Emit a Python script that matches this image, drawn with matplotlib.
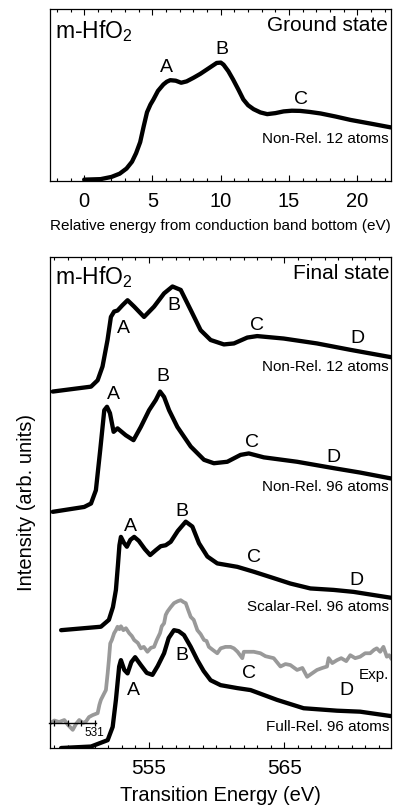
import matplotlib
matplotlib.use('Agg')
import matplotlib.pyplot as plt
from matplotlib.ticker import FixedLocator, MultipleLocator, NullLocator

plt.rcParams['font.family'] = ['Liberation Sans', 'DejaVu Sans']
plt.rcParams['mathtext.fontset'] = 'custom'
plt.rcParams['mathtext.rm'] = 'Liberation Sans'

# ground state, relative energy (eV) vs intensity (arb.)
gs_e = [0.0, 1.2, 2.0, 2.6, 3.1, 3.5, 3.8, 4.1, 4.35, 4.6, 4.85, 5.07, 5.4, 5.8, 6.05, 6.3,
        6.7, 7.1, 7.5, 8.0, 8.5, 8.97, 9.4, 9.7, 10.0, 10.2, 10.55, 10.9, 11.3, 11.65, 12.0,
        12.4, 12.9, 13.4, 14.0, 14.6, 15.2, 15.8, 16.5, 17.3, 18.4, 19.5, 21.0, 22.46]
gs_i = [0.0, 0.3, 1.6, 3.5, 6.5, 10.5, 15.5, 22.0, 31.0, 39.5, 44.0, 47.0, 52.0, 55.8, 57.4, 58.3,
        58.0, 56.8, 57.6, 59.7, 62.0, 64.5, 66.8, 68.4, 68.6, 67.4, 63.6, 58.7, 52.6, 47.0, 43.6,
        41.3, 39.4, 38.4, 39.0, 40.0, 40.4, 40.3, 39.7, 38.8, 37.0, 35.0, 32.8, 30.6]
gs_xticks = [0, 5, 10, 15, 20]

# final state, transition energy (eV)
nr12_e = [547.9, 550.73, 551.22, 551.58, 551.95, 552.2, 552.44, 552.69, 553.06, 553.43, 553.92,
          554.65, 555.39, 556.13, 556.75, 557.36, 558.1, 558.83, 559.57, 560.55, 561.29, 562.28,
          563.01, 564.97, 567.43, 569.89, 572.9]
nr12_i = [72.6, 73.6, 74.9, 77.7, 83.1, 87.8, 88.9, 89.1, 90.2, 91.2, 89.9,
          87.8, 89.9, 92.6, 94.0, 93.3, 89.2, 85.1, 83.1, 82.2, 82.4, 83.6,
          83.9, 83.4, 82.4, 81.1, 79.6]

nr96_e = [547.9, 550.23, 550.73, 551.09, 551.41, 551.71, 551.91, 552.13, 552.4, 552.69, 553.3,
          553.87, 554.41, 555.02, 555.52, 555.83, 556.13, 556.5, 557.11, 558.1, 559.08, 559.81,
          560.8, 561.78, 562.39, 563.5, 565.96, 568.66, 570.62, 572.9]
nr96_i = [48.1, 49.1, 49.8, 52.5, 60.7, 68.8, 69.5, 68.2, 64.4, 65.1, 63.7,
          62.7, 65.4, 68.8, 70.9, 72.6, 71.5, 68.8, 65.4, 61.4, 58.7, 58.0,
          58.3, 59.7, 60.0, 59.2, 58.3, 57.0, 56.1, 54.9]

sr96_e = [548.52, 551.46, 552.05, 552.35, 552.57, 552.72, 552.83, 552.94, 553.16, 553.38, 553.64,
          553.92, 554.26, 554.71, 555.1, 555.52, 555.88, 556.25, 556.62, 557.14, 557.73, 558.22,
          558.71, 559.33, 560.06, 561.54, 562.76, 564.23, 565.46, 566.94, 568.66, 570.13, 572.9]
sr96_i = [24.0, 24.7, 26.1, 28.7, 32.2, 37.3, 41.3, 43.0, 41.8, 41.0, 42.4,
          43.0, 42.2, 40.5, 39.3, 40.3, 41.1, 41.3, 42.0, 44.2, 46.1, 45.1,
          41.7, 39.0, 37.6, 36.9, 35.9, 34.6, 33.5, 32.5, 32.2, 31.8, 30.6]

fr96_e = [548.52, 550.73, 551.96, 552.33, 552.57, 552.81, 552.94, 553.19, 553.43, 553.71, 553.99,
          554.41, 554.85, 555.27, 555.66, 556.13, 556.47, 556.86, 557.21, 557.6, 558.1, 558.59,
          559.05, 559.57, 560.31, 561.54, 562.52, 564.48, 566.44, 568.91, 570.62, 572.9]
fr96_i = [0.0, 0.3, 1.6, 4.3, 9.8, 16.6, 17.9, 15.9, 15.2, 17.5, 18.5,
          16.9, 15.3, 14.9, 16.7, 19.3, 22.4, 24.0, 23.8, 23.0, 20.6, 17.9,
          15.7, 13.8, 12.8, 12.2, 11.8, 9.8, 8.1, 7.6, 7.4, 6.5]

exp_e = [547.65, 548.02, 548.37, 548.76, 549.03, 549.38, 549.62, 549.86, 550.14, 550.36, 550.58,
         550.85, 551.22, 551.35, 551.46, 551.68, 551.83, 551.96, 552.05, 552.15, 552.27, 552.44,
         552.57, 552.69, 552.83, 552.94, 553.12, 553.31, 553.55, 553.75, 553.92, 554.19, 554.41,
         554.63, 554.9, 555.15, 555.39, 555.59, 555.83, 555.96, 556.13, 556.25, 556.38, 556.62,
         556.86, 557.14, 557.36, 557.58, 557.73, 557.91, 558.1, 558.32, 558.59, 558.83, 559.08,
         559.27, 559.44, 559.72, 560.06, 560.31, 560.67, 561.04, 561.29, 561.56, 561.91, 562.02,
         562.37, 562.76, 563.25, 563.62, 564.23, 564.73, 565.1, 565.46, 565.96, 566.35, 566.7,
         567.01, 567.43, 567.82, 568.17, 568.29, 568.56, 568.91, 569.22, 569.59, 569.89, 570.25,
         570.62, 570.99, 571.36, 571.65, 571.85, 572.1, 572.34, 572.59, 572.76, 572.9]
exp_i = [4.9, 5.6, 5.3, 5.7, 4.7, 3.7, 4.9, 5.7, 5.1, 5.4, 6.3,
         6.7, 7.1, 8.8, 9.8, 11.0, 11.8, 15.2, 17.9, 21.3, 22.0, 23.4,
         24.0, 24.7, 24.2, 24.8, 24.0, 24.4, 23.4, 22.8, 22.0, 21.4, 20.3,
         20.6, 19.6, 20.4, 20.6, 22.0, 23.4, 24.8, 25.4, 27.1, 27.8, 28.7,
         29.5, 29.9, 30.1, 29.7, 29.5, 28.1, 26.7, 26.1, 24.0, 23.2, 22.0,
         21.8, 20.6, 20.0, 19.3, 20.3, 20.6, 20.6, 20.3, 19.6, 18.3, 19.6,
         19.6, 19.6, 19.3, 18.7, 18.3, 16.6, 17.1, 16.9, 15.9, 16.3, 14.5,
         15.1, 15.9, 16.3, 16.6, 18.3, 17.3, 17.9, 18.3, 17.7, 18.9, 18.3,
         18.6, 19.3, 19.3, 20.0, 20.3, 19.6, 20.6, 18.6, 18.9, 18.3]

fs_xticks = [555, 565]
exp_ticks = [528, 529, 530, 531]

# peak letters: (letter, energy, intensity)
gs_peaks = [('A', 6.05, 65.5), ('B', 10.07, 76.2), ('C', 15.9, 47.1)]
fs_peaks = [('A', 553.16, 85.5), ('B', 556.84, 90.2), ('C', 563.03, 86.1), ('D', 570.4, 83.5),
            ('A', 552.42, 71.9), ('B', 556.03, 75.6), ('C', 562.66, 62.3), ('D', 568.63, 59.1),
            ('A', 553.67, 45.1), ('B', 557.48, 48.1), ('C', 562.81, 38.7), ('D', 570.33, 34.2),
            ('A', 553.87, 11.8), ('B', 557.48, 18.9), ('C', 562.39, 15.2), ('D', 569.64, 11.8)]
fs_names = [('Non-Rel. 12 atoms', 77.7), ('Non-Rel. 96 atoms', 53.2),
            ('Scalar-Rel. 96 atoms', 28.8), ('Full-Rel. 96 atoms', 4.3), ('Exp.', 14.9)]

fig = plt.figure(figsize=(3.96, 8.07), dpi=100)
ax1 = fig.add_axes([0.1263, 0.7757, 0.8611, 0.2131])
ax2 = fig.add_axes([0.1263, 0.0731, 0.8611, 0.6084])

lw = 3.1
ax1.plot(gs_e, gs_i, color='black', lw=lw, solid_joinstyle='round', solid_capstyle='round')
ax1.set_xlim(-2.5, 22.46)
ax1.set_ylim(-0.8, 100)
for lab, x, y in gs_peaks:
    ax1.text(x, y, lab, fontsize=14, ha='center', va='center')
ax1.text(22.3, 23.8, 'Non-Rel. 12 atoms', fontsize=11, ha='right', va='center')
ax1.text(0.015, 0.87, 'm-HfO$_2$', fontsize=16.5, transform=ax1.transAxes, va='center')
ax1.text(0.991, 0.905, 'Ground state', fontsize=15, transform=ax1.transAxes,
         ha='right', va='center')
ax1.xaxis.set_major_locator(FixedLocator(gs_xticks))
ax1.xaxis.set_minor_locator(MultipleLocator(1))
ax1.set_xlabel('Relative energy from conduction band bottom (eV)', fontsize=11, labelpad=6)

ax2.plot(exp_e, exp_i, color='#999999', lw=2.7, solid_joinstyle='round')
for e, i in [(nr12_e, nr12_i), (nr96_e, nr96_i), (sr96_e, sr96_i), (fr96_e, fr96_i)]:
    ax2.plot(e, i, color='black', lw=lw, solid_joinstyle='round', solid_capstyle='round')
ax2.set_xlim(547.7, 572.9)
ax2.set_ylim(0, 100)
for lab, x, y in fs_peaks:
    ax2.text(x, y, lab, fontsize=14, ha='center', va='center')
for name, y in fs_names:
    ax2.text(572.75, y, name, fontsize=11, ha='right', va='center')
ax2.text(0.015, 0.959, 'm-HfO$_2$', fontsize=16.5, transform=ax2.transAxes, va='center')
ax2.text(0.997, 0.967, 'Final state', fontsize=15, transform=ax2.transAxes,
         ha='right', va='center')
ax2.xaxis.set_major_locator(FixedLocator(fs_xticks))
ax2.xaxis.set_minor_locator(MultipleLocator(1))
ax2.set_xlabel('Transition Energy (eV)', fontsize=14.5, labelpad=6)
ax2.set_ylabel('Intensity (arb. units)', fontsize=14.5, labelpad=10)

for ax, fs, pad in [(ax1, 14.5, 8), (ax2, 15, 8)]:
    ax.yaxis.set_major_locator(NullLocator())
    ax.tick_params(axis='x', which='major', direction='in', top=True, length=4,
                   width=0.8, labelsize=fs, pad=pad)
    ax.tick_params(axis='x', which='minor', direction='in', top=True, length=2.3, width=0.8)
    for s in ax.spines.values():
        s.set_linewidth(0.9)

# small energy scale for the experimental spectrum
sax = ax2.inset_axes([547.65, 3.5, 3.44, 3.0], transform=ax2.transData)
sax.set_xlim(527.65, 531.09)
sax.patch.set_alpha(0)
for side in ['top', 'left', 'right']:
    sax.spines[side].set_visible(False)
sax.spines['bottom'].set_position(('axes', 0.5))
sax.spines['bottom'].set_linewidth(1.0)
sax.yaxis.set_major_locator(NullLocator())
sax.xaxis.set_major_locator(FixedLocator(exp_ticks))
sax.set_xticklabels(['', '', '', '531'])
sax.tick_params(axis='x', direction='inout', length=4.5, width=0.9, labelsize=8.5, pad=0)

fig.savefig('out.png', dpi=100)
